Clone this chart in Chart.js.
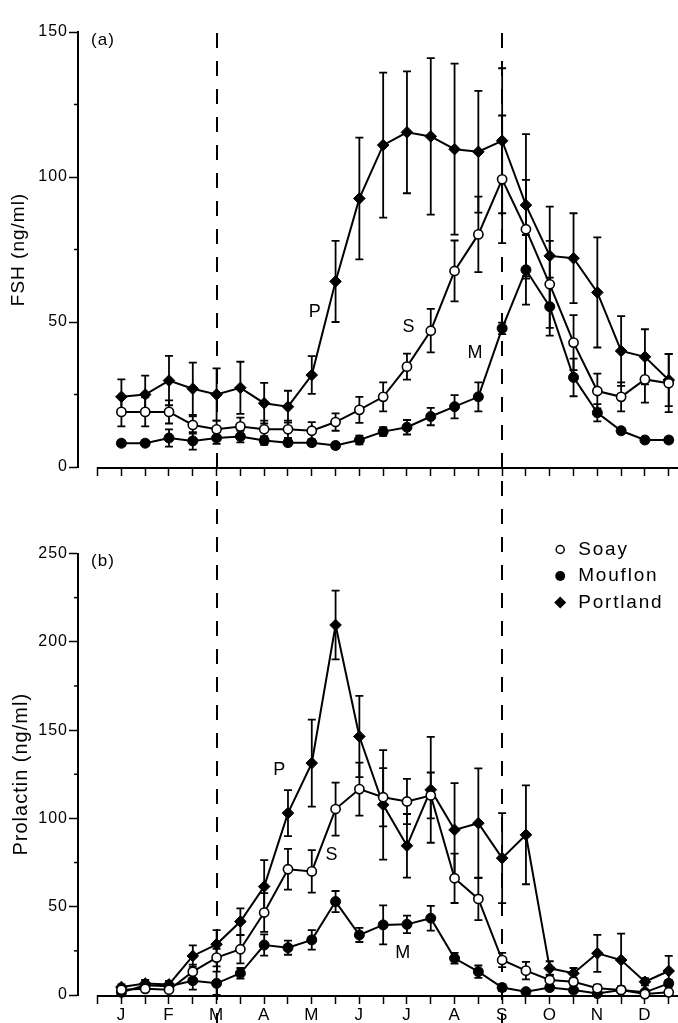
<!DOCTYPE html>
<html>
<head>
<meta charset="utf-8">
<script src="https://cdn.jsdelivr.net/npm/chart.js@4.4.1/dist/chart.umd.min.js"></script>
<style>
html,body{margin:0;padding:0;background:#fff;}
#wrap{position:relative;width:678px;height:1023px;overflow:hidden;background:#fff;}
#ca{position:absolute;left:0;top:0;}
#cb{position:absolute;left:0;top:490px;}
</style>
</head>
<body>
<div id="wrap">
<canvas id="ca" width="678" height="490" style="width:678px;height:490px"></canvas>
<canvas id="cb" width="678" height="533" style="width:678px;height:533px"></canvas>
</div>
<script>
// ---------- data ----------
// sampling points: fortnight index from early January (0) to late December (23)
const fortnights = [0,1,2,3,4,5,6,7,8,9,10,11,12,13,14,15,16,17,18,19,20,21,22,23];
const axisTickValues = [-1,0,1,2,3,4,5,6,7,8,9,10,11,12,13,14,15,16,17,18,19,20,21,22,23];
const monthLabels = ['J','F','M','A','M','J','J','A','S','O','N','D'];
const seriesNames = ['Soay','Mouflon','Portland'];
const fshTicks = [0,25,50,75,100,125,150];
const prlTicks = [0,25,50,75,100,125,150,175,200,225,250];
const solsticeMarks = [4,16];

// (a) FSH (ng/ml)
const fshSoay      = [19,19,19,14.5,13,14,13,13,12.5,15.5,19.7,24.2,34.6,47,67.6,80.2,99.2,82,63,42.9,26.2,24.2,30.2,28.9];
const fshSoayErr   = [5,5,4,3,3,3,3,3,3,3,4.5,5,4.5,7.5,10.5,13,22,17,15,9.5,6,5,8,10];
const fshMouflon   = [8.2,8.2,10,9,10,10.5,9.1,8.4,8.4,7.4,9.3,12.2,13.7,17.4,20.8,24.2,47.8,68,55.3,30.9,18.7,12.5,9.3,9.3];
const fshMouflonErr= [1,1,3,3,2,2,1.5,1,1,1,1.5,1.5,2.5,3,4,5,2,12,10,6.5,3,1,1,1];
const fshPortland  = [24.2,25,29.8,27,25,27.3,22,20.8,31.7,64,92.6,111,115.4,114,109.6,108.7,112.5,90.3,72.8,72,60.2,40,38,30];
const fshPortlandErr=[6,6.5,8.5,9,9,9,7,5.5,6.5,14,21,25,21,27,29.5,21,25,24.5,17,15.5,19,12,9.5,9];

// (b) Prolactin (ng/ml)
const prlSoay      = [3,3.5,3,13.2,21.2,25.9,46.7,71.2,70,105.3,116.6,112,109.6,113,66.1,54.4,19.8,13.8,8.5,7.5,3.8,2.8,0.5,1.5];
const prlSoayErr   = [1,1,1,4,5,8,11,11.5,12,15,15,16.5,12.8,13,14,12,4,5,3,2,2,1,1,1];
const prlMouflon   = [1.5,5.5,5,8.1,6.6,12.3,28.3,26.8,31.2,52.9,34,39.7,40,43.5,20.8,13.2,4.2,1.9,4.2,2.8,0.8,2.8,1.5,6.6];
const prlMouflonErr= [1,2,2,5,6.6,3,6,4,5.5,6,4,11,5,7,3,3.5,2,1,1.5,1,1,1,1,2];
const prlPortland  = [4.5,6.5,6,22.1,28.7,41.6,61.4,103,131.3,209.5,146.4,107.7,84.5,116.2,93.5,97.3,77.5,90.7,15.1,12.3,23.6,19.8,7.5,13.6];
const prlPortlandErr=[1.5,2,2,6,8,7.5,15,13,24.6,19.5,23,31,18,30,26.5,31,25.5,28,4,3,10.5,15,2,8.5];

// ---------- helpers ----------
const FONT = '"Liberation Sans", Arial, Helvetica, sans-serif';
const X_MIN = -1.824, X_MAX = 23.104, X_AXIS_START = -1;

function pts(vals){ return fortnights.map((f,i)=>({x:f, y:vals[i]})); }

function makeDatasets(s, se, m, me, p, pe){
  const common = {borderColor:'#000', borderWidth:2, tension:0, clip:false, showLine:true, pointBorderColor:'#000'};
  return [
    Object.assign({}, common, {label:seriesNames[0], data:pts(s), errors:se, pointStyle:'circle', pointRadius:4.6, pointBorderWidth:1.6, pointBackgroundColor:'#fff'}),
    Object.assign({}, common, {label:seriesNames[1], data:pts(m), errors:me, pointStyle:'circle', pointRadius:5, pointBorderWidth:1, pointBackgroundColor:'#000'}),
    Object.assign({}, common, {label:seriesNames[2], data:pts(p), errors:pe, pointStyle:'rectRot', pointRadius:5.8, pointBorderWidth:1, pointBackgroundColor:'#000'})
  ];
}

const decor = {
  id:'decor',
  beforeDraw(chart){ chart.ctx.letterSpacing = '1px'; },
  beforeDatasetsDraw(chart, args, opts){
    const {ctx, chartArea:a} = chart; const x = chart.scales.x, y = chart.scales.y;
    ctx.save();
    ctx.strokeStyle = '#000';
    // x axis line (starts a little right of the y axis)
    ctx.lineWidth = 2;
    ctx.beginPath(); ctx.moveTo(x.getPixelForValue(X_AXIS_START), a.bottom+1); ctx.lineTo(chart.width, a.bottom+1); ctx.stroke();
    // minor y ticks
    ctx.lineWidth = 1.5;
    y.ticks.forEach(t=>{
      if (t.value % 50 !== 0){
        const py = y.getPixelForValue(t.value);
        ctx.beginPath(); ctx.moveTo(a.left-4, py); ctx.lineTo(a.left, py); ctx.stroke();
      }
    });
    // dashed vertical lines
    ctx.lineWidth = 2; ctx.setLineDash([15,13]); ctx.lineDashOffset = opts.dashOffset || 0;
    solsticeMarks.forEach(v=>{
      const px = Math.round(x.getPixelForValue(v));
      ctx.beginPath(); ctx.moveTo(px, opts.dashTop); ctx.lineTo(px, chart.height); ctx.stroke();
    });
    ctx.setLineDash([]);
    // error bars
    ctx.lineWidth = 1.8;
    chart.data.datasets.forEach(ds=>{
      ds.data.forEach((p,i)=>{
        const e = ds.errors[i]; if (!e) return;
        const px = x.getPixelForValue(p.x);
        const yt = y.getPixelForValue(p.y + e);
        const yb = y.getPixelForValue(Math.max(p.y - e, 0));
        ctx.beginPath();
        ctx.moveTo(px, yt); ctx.lineTo(px, yb);
        ctx.moveTo(px-4, yt); ctx.lineTo(px+4, yt);
        ctx.moveTo(px-4, yb); ctx.lineTo(px+4, yb);
        ctx.stroke();
      });
    });
    ctx.restore();
  },
  afterDraw(chart, args, opts){
    const {ctx, chartArea:a} = chart; const x = chart.scales.x, y = chart.scales.y;
    ctx.save();
    ctx.fillStyle = '#000'; ctx.textBaseline = 'middle';
    // panel tag
    ctx.letterSpacing = '1px';
    ctx.font = '17px ' + FONT; ctx.textAlign = 'center';
    ctx.fillText(opts.tag, a.left + 25, a.top + 8);
    // series letters
    ctx.font = '18px ' + FONT;
    (opts.letters||[]).forEach(l=>{
      ctx.fillText(l.t, x.getPixelForValue(l.x), y.getPixelForValue(l.y));
    });
    // legend
    if (opts.legend){
      const lx = a.right - 111, ly0 = a.top - 4, dy = 26.5;
      ctx.font = '19px ' + FONT; ctx.letterSpacing = '1.8px'; ctx.textAlign = 'left';
      seriesNames.forEach((n,i)=>{
        const cy = ly0 + i*dy;
        ctx.beginPath();
        if (i === 0){ ctx.arc(lx, cy, 4, 0, Math.PI*2); ctx.lineWidth = 1.5; ctx.stroke(); }
        else if (i === 1){ ctx.arc(lx, cy, 5, 0, Math.PI*2); ctx.fill(); }
        else { ctx.moveTo(lx, cy-6); ctx.lineTo(lx+6, cy); ctx.lineTo(lx, cy+6); ctx.lineTo(lx-6, cy); ctx.closePath(); ctx.fill(); }
        ctx.fillText(n, lx + 18, cy);
      });
    }
    ctx.restore();
  }
};

function baseOptions(cfg){
  return {
    responsive:false, animation:false, events:[],
    layout:{padding:{top:cfg.top, left:0, right:0, bottom:0}},
    plugins:{legend:{display:false}, tooltip:{enabled:false}, decor:cfg.decor},
    scales:{
      x:{
        type:'linear', min:X_MIN, max:X_MAX,
        afterBuildTicks(s){ s.ticks = axisTickValues.map(v=>({value:v})); },
        afterFit(s){ s.height = cfg.xh; },
        grid:{drawOnChartArea:false, drawTicks:true, tickLength:9, tickColor:'#000', tickWidth:1.5},
        border:{display:false},
        ticks:{autoSkip:false, maxRotation:0, minRotation:0, padding:1, color:'#000',
               font:{family:FONT, size:17},
               callback:(v)=> (cfg.monthNames && v >= 0 && v % 2 === 0) ? monthLabels[v/2] : ''}
      },
      y:{
        type:'linear', min:0, max:cfg.ymax,
        afterBuildTicks(s){ s.ticks = cfg.yticks.map(v=>({value:v})); },
        afterFit(s){ s.width = 78; },
        grid:{drawOnChartArea:false, drawTicks:true, tickLength:9,
              tickColor:(c)=> (c.tick && c.tick.value % 50 === 0) ? '#000' : 'rgba(0,0,0,0)', tickWidth:1.5},
        border:{display:true, color:'#000', width:2},
        ticks:{padding:1, color:'#000', font:{family:FONT, size:16},
               callback:(v)=> v % 50 === 0 ? String(v) : ''},
        title:{display:true, text:cfg.title, color:'#000', font:{family:FONT, size:cfg.titleSize}, padding:{top:cfg.titlePad, bottom:0}}
      }
    }
  };
}

new Chart(document.getElementById('ca'), {
  type:'line',
  data:{datasets: makeDatasets(fshSoay, fshSoayErr, fshMouflon, fshMouflonErr, fshPortland, fshPortlandErr)},
  options: baseOptions({top:32, xh:23, ymax:150, yticks:fshTicks, title:'FSH (ng/ml)', titleSize:19, titlePad:7.5, monthNames:false,
    decor:{dashTop:33, dashOffset:0, tag:'(a)',
      letters:[{t:'P', x:8.15, y:53.4},{t:'S', x:12.09, y:48.3},{t:'M', x:14.88, y:39.3}]}}),
  plugins:[decor]
});

new Chart(document.getElementById('cb'), {
  type:'line',
  data:{datasets: makeDatasets(prlSoay, prlSoayErr, prlMouflon, prlMouflonErr, prlPortland, prlPortlandErr)},
  options: baseOptions({top:63.5, xh:28, ymax:250, yticks:prlTicks, title:'Prolactin (ng/ml)', titleSize:20, titlePad:9.5, monthNames:true,
    decor:{dashTop:0, dashOffset:9, tag:'(b)', legend:true,
      letters:[{t:'P', x:6.65, y:127.6},{t:'S', x:8.85, y:79.4},{t:'M', x:11.84, y:23.8}]}}),
  plugins:[decor]
});
</script>
</body>
</html>
